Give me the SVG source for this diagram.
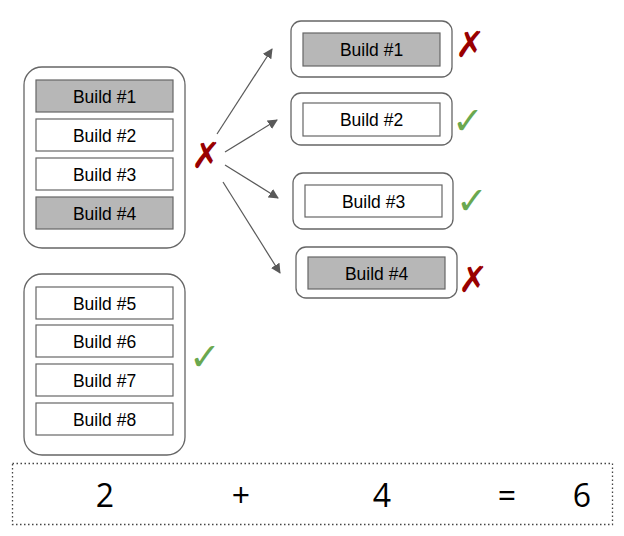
<svg xmlns="http://www.w3.org/2000/svg" width="624" height="536" viewBox="0 0 624 536">
<style>
.cont{fill:#fff;stroke:#666;stroke-width:1.3}
.box{fill:#fff;stroke:#666;stroke-width:1.2}
.gray{fill:#b7b7b7}
.lbl{font-family:"Liberation Sans",Arial,sans-serif;font-size:17.5px;fill:#000;text-anchor:middle}
.x{font-family:"DejaVu Sans",sans-serif;font-size:36px;font-weight:bold;fill:#990000;text-anchor:middle}
.ok{font-family:"DejaVu Sans",sans-serif;font-size:38px;font-weight:bold;fill:#6aa84f;text-anchor:middle}
.eq{font-family:"Open Sans",sans-serif;font-size:32px;fill:#000;text-anchor:middle}
.arr{stroke:#595959;stroke-width:1.2;fill:none;marker-end:url(#ah)}
</style>
<defs>
<marker id="ah" viewBox="0 0 10 10" refX="9" refY="5" markerWidth="10" markerHeight="10" markerUnits="userSpaceOnUse" orient="auto">
<path d="M0,0 L10,5 L0,10 Z" fill="#595959"/>
</marker>
</defs>
<rect width="624" height="536" fill="#fff"/>

<g id="group-top">
<rect class="cont" x="24" y="67" width="161" height="181" rx="18"/>
<g id="b1"><rect class="box gray" x="36" y="80" width="137" height="32"/><text class="lbl" x="104.5" y="102.5">Build #1</text></g>
<g id="b2"><rect class="box" x="36" y="119" width="137" height="32"/><text class="lbl" x="104.5" y="141.5">Build #2</text></g>
<g id="b3"><rect class="box" x="36" y="158" width="137" height="32"/><text class="lbl" x="104.5" y="180.5">Build #3</text></g>
<g id="b4"><rect class="box gray" x="36" y="197" width="137" height="32"/><text class="lbl" x="104.5" y="219.5">Build #4</text></g>
</g>
<g id="mark-top"><text class="x" x="206" y="168">✗</text></g>

<g id="group-bottom">
<rect class="cont" x="24" y="274" width="161" height="181" rx="18"/>
<g id="b5"><rect class="box" x="36" y="287" width="137" height="32"/><text class="lbl" x="104.5" y="309.5">Build #5</text></g>
<g id="b6"><rect class="box" x="36" y="325" width="137" height="32"/><text class="lbl" x="104.5" y="347.5">Build #6</text></g>
<g id="b7"><rect class="box" x="36" y="364" width="137" height="32"/><text class="lbl" x="104.5" y="386.5">Build #7</text></g>
<g id="b8"><rect class="box" x="36" y="403" width="137" height="32"/><text class="lbl" x="104.5" y="425.5">Build #8</text></g>
</g>
<g id="mark-bottom"><text class="ok" x="205" y="370">✓</text></g>

<g id="r1">
<rect class="cont" x="291" y="21" width="161" height="56" rx="10"/>
<rect class="box gray" x="303" y="33" width="137" height="33"/>
<text class="lbl" x="371.5" y="56">Build #1</text>
<text class="x" x="470" y="57">✗</text>
</g>
<g id="r2">
<rect class="cont" x="291" y="93" width="161" height="52" rx="10"/>
<rect class="box" x="303" y="103" width="137" height="33"/>
<text class="lbl" x="371.5" y="126">Build #2</text>
<text class="ok" x="468" y="134">✓</text>
</g>
<g id="r3">
<rect class="cont" x="293" y="173" width="160" height="56" rx="10"/>
<rect class="box" x="305" y="185" width="137" height="32"/>
<text class="lbl" x="373.5" y="207.5">Build #3</text>
<text class="ok" x="472" y="214">✓</text>
</g>
<g id="r4">
<rect class="cont" x="296" y="247" width="161" height="51" rx="10"/>
<rect class="box gray" x="308" y="257" width="137" height="32"/>
<text class="lbl" x="376.5" y="279.5">Build #4</text>
<text class="x" x="473" y="292">✗</text>
</g>

<g id="connectors">
<line class="arr" x1="217" y1="134" x2="272" y2="49"/>
<line class="arr" x1="225" y1="152" x2="277" y2="120"/>
<line class="arr" x1="225" y1="165" x2="278" y2="198"/>
<line class="arr" x1="223" y1="182" x2="280" y2="273"/>
</g>

<g id="equation">
<rect x="12.5" y="463.5" width="600" height="61" fill="none" stroke="#444" stroke-width="1.3" stroke-dasharray="1.5,2.5"/>
<text class="eq" x="105" y="507">2</text>
<text class="eq" x="241" y="507">+</text>
<text class="eq" x="382" y="507">4</text>
<text class="eq" x="507" y="507">=</text>
<text class="eq" x="582" y="507">6</text>
</g>
</svg>
